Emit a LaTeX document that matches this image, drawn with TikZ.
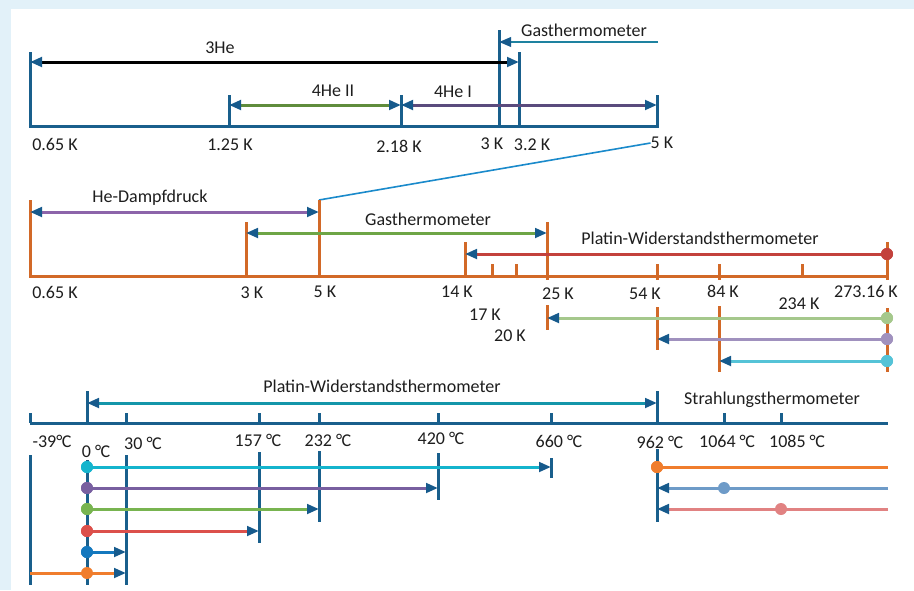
\documentclass[tikz,border=0pt]{standalone}
\usepackage{fontspec}
\setmainfont{Carlito}
\usetikzlibrary{arrows.meta}
\definecolor{bgblue}{RGB}{226,241,249}
\definecolor{tipblue}{RGB}{22,90,140}
\definecolor{axblue}{RGB}{25,95,140}
\definecolor{axorange}{RGB}{210,105,40}
\definecolor{textgray}{RGB}{30,30,30}
\definecolor{gasteal}{RGB}{30,130,160}
\definecolor{heIIgreen}{RGB}{95,140,60}
\definecolor{heIpurple}{RGB}{90,75,125}
\definecolor{linkblue}{RGB}{26,138,203}
\definecolor{dampfpurple}{RGB}{140,100,170}
\definecolor{gasgreen}{RGB}{110,165,70}
\definecolor{ptred}{RGB}{195,65,60}
\definecolor{lgreen}{RGB}{165,200,140}
\definecolor{lavender}{RGB}{160,145,190}
\definecolor{lcyan}{RGB}{85,195,215}
\definecolor{ptteal}{RGB}{20,150,170}
\definecolor{bcyan}{RGB}{20,180,205}
\definecolor{bpurple}{RGB}{120,95,160}
\definecolor{bgreen}{RGB}{120,180,80}
\definecolor{bred}{RGB}{220,80,75}
\definecolor{bblue}{RGB}{20,120,190}
\definecolor{borange}{RGB}{240,125,45}
\definecolor{steel}{RGB}{110,155,200}
\definecolor{pink}{RGB}{225,130,130}
\newcommand{\degc}{°\kern-0.5pt C}
\begin{document}
\begin{tikzpicture}[x=1pt,y=-1pt,
  >={Triangle[length=12pt,width=9.5pt,color=tipblue]},
  lab/.style={inner sep=0pt, font=\fontsize{18}{20}\selectfont, text=textgray},
  topax/.style={line width=3pt, draw=axblue},
  midax/.style={line width=3pt, draw=axorange},
  botax/.style={line width=3pt, draw=axblue},
  ar/.style={line width=3pt},
  dot/.style={circle, inner sep=0pt, minimum size=12pt}]
\useasboundingbox (0,0) rectangle (914,590);
\fill[bgblue] (0,0) rectangle (914,590);
\fill[white] (11,9) rectangle (914,590);

% ---------- top section ----------
\draw[topax] (30,52) -- (30,126) -- (657,126) -- (657,95);
\draw[topax] (229,95) -- (229,126);
\draw[topax] (401,95) -- (401,126);
\draw[topax] (499,30) -- (499,126);
\draw[topax] (519,52) -- (519,126);

\coordinate (he3a) at (30,62);  \coordinate (he3b) at (519,62);
\coordinate (he2a) at (229,105); \coordinate (he2b) at (401,105);
\coordinate (he1b) at (657,105);
\coordinate (gta) at (658,42);  \coordinate (gtb) at (499,42);
\draw[ar, black, <->] (he3a) -- (he3b);
\draw[ar, heIIgreen, <->] (he2a) -- (he2b);
\draw[ar, heIpurple, <->] (he2b) -- (he1b);
\draw[line width=2pt, gasteal, ->] (gta) -- (gtb);

\node[lab] (l3he) at (220,48) {3He};
\node[lab] (l4he2) at (333,91) {4He II};
\node[lab] (l4he1) at (453,92) {4He I};
\node[lab] (lgas1) at (584,30) {Gasthermometer};
\node[lab] (t1) at (55,144) {0.65 K};
\node[lab] (t2) at (230,145) {1.25 K};
\node[lab] (t3) at (399,146) {2.18 K};
\node[lab] (t4) at (492,144) {3 K};
\node[lab] (t5) at (532,145) {3.2 K};
\node[lab] (t6) at (662,143) {5 K};

% link line
\coordinate (m5top) at (319,200);
\draw[line width=1.6pt, linkblue] (t6.west) -- (m5top);

% ---------- middle section ----------
\draw[midax] (30,200) -- (30,276) -- (887,276);
\draw[midax] (246,222) -- (246,276);
\draw[midax] (319,200) -- (319,276);
\draw[midax] (465,242) -- (465,276);
\draw[midax] (492,264) -- (492,276);
\draw[midax] (516,264) -- (516,276);
\draw[midax] (547,222) -- (547,280);
\draw[midax] (657,264) -- (657,280);
\draw[midax] (719,264) -- (719,280);
\draw[midax] (802,264) -- (802,276);
\draw[midax] (887,242) -- (887,280);
\draw[midax] (547,305) -- (547,330);
\draw[midax] (657,307) -- (657,350);
\draw[midax] (719,306) -- (719,372);
\draw[midax] (887,308) -- (887,372);

\coordinate (hda) at (30,212); \coordinate (hdb) at (319,212);
\coordinate (g2a) at (246,233); \coordinate (g2b) at (547,233);
\coordinate (p14) at (465,254);
\coordinate (p25) at (547,318);
\coordinate (p54) at (657,339);
\coordinate (p84) at (719,361);
\draw[ar, dampfpurple, <->] (hda) -- (hdb);
\draw[ar, gasgreen, <->] (g2a) -- (g2b);
\node[dot, fill=ptred] (dpr) at (887,254) {};
\draw[ar, ptred, ->] (dpr.center) -- (p14);
\node[dot, fill=lgreen] (dlg) at (887,318) {};
\draw[ar, lgreen, ->] (dlg.center) -- (p25);
\node[dot, fill=lavender] (dlv) at (887,339) {};
\draw[ar, lavender, ->] (dlv.center) -- (p54);
\node[dot, fill=lcyan] (dlc) at (887,361) {};
\draw[ar, lcyan, ->] (dlc.center) -- (p84);
\node[dot, fill=ptred] at (887,254) {};
\node[dot, fill=lgreen] at (887,318) {};
\node[dot, fill=lavender] at (887,339) {};
\node[dot, fill=lcyan] at (887,361) {};

\node[lab] (lhd) at (150,198) {He-Dampfdruck};
\node[lab] (lgas2) at (428,219) {Gasthermometer};
\node[lab] (lpt1) at (700,238) {Platin-Widerstandsthermometer};
\node[lab] (m1) at (55,292) {0.65 K};
\node[lab] (m2) at (252,293) {3 K};
\node[lab] (m3) at (325,292) {5 K};
\node[lab] (m4) at (457,292) {14 K};
\node[lab] (m5) at (558,294) {25 K};
\node[lab] (m6) at (645,294) {54 K};
\node[lab] (m7) at (723,291) {84 K};
\node[lab] (m8) at (866,291) {273.16 K};
\node[lab] (m9) at (799,304) {234 K};
\node[lab] (m10) at (485,315) {17 K};
\node[lab] (m11) at (510,336) {20 K};

% ---------- bottom section ----------
\draw[botax] (30,423) -- (888,423);
\foreach \x in {30,126,259,319,438,551,724,781}
  \draw[botax] (\x,413) -- (\x,423);
\draw[botax] (87,391) -- (87,423);
\draw[botax] (657,391) -- (657,423);
\draw[botax] (30,455) -- (30,585);
\draw[botax] (87,460) -- (87,585);
\draw[botax] (126,455) -- (126,585);
\draw[botax] (259,452) -- (259,543);
\draw[botax] (319,451) -- (319,522);
\draw[botax] (438,453) -- (438,500);
\draw[botax] (551,458) -- (551,478);
\draw[botax] (657,449) -- (657,522);

\coordinate (pta) at (87,403); \coordinate (ptb) at (657,403);
\draw[ar, ptteal, <->] (pta) -- (ptb);

\coordinate (e660) at (551,467);
\coordinate (e420) at (438,488);
\coordinate (e232) at (319,509);
\coordinate (e157) at (259,531);
\coordinate (e30a) at (126,552);
\coordinate (e30b) at (126,573);
\coordinate (s39) at (30,573);
\node[dot, fill=bcyan] (b1) at (87,467) {};
\node[dot, fill=bpurple] (b2) at (87,488) {};
\node[dot, fill=bgreen] (b3) at (87,509) {};
\node[dot, fill=bred] (b4) at (87,531) {};
\node[dot, fill=bblue] (b5) at (87,552) {};
\draw[ar, bcyan, ->] (b1.center) -- (e660);
\draw[ar, bpurple, ->] (b2.center) -- (e420);
\draw[ar, bgreen, ->] (b3.center) -- (e232);
\draw[ar, bred, ->] (b4.center) -- (e157);
\draw[ar, bblue, ->] (b5.center) -- (e30a);
\draw[ar, borange, ->] (s39) -- (e30b);
\node[dot, fill=borange] (b6) at (87,573) {};
\node[dot, fill=bcyan] at (87,467) {};
\node[dot, fill=bpurple] at (87,488) {};
\node[dot, fill=bgreen] at (87,509) {};
\node[dot, fill=bred] at (87,531) {};
\node[dot, fill=bblue] at (87,552) {};

\coordinate (r1e) at (888,467);
\coordinate (r2s) at (888,488); \coordinate (r2e) at (657,488);
\coordinate (r3s) at (888,509); \coordinate (r3e) at (657,509);
\node[dot, fill=borange] (c1) at (657,467) {};
\draw[ar, borange] (c1.center) -- (r1e);
\node[dot, fill=borange] at (657,467) {};
\draw[ar, steel, ->] (r2s) -- (r2e);
\node[dot, fill=steel] (c2) at (724,488) {};
\draw[ar, pink, ->] (r3s) -- (r3e);
\node[dot, fill=pink] (c3) at (781,509) {};

\node[lab] (lpt2) at (382,386) {Platin-Widerstandsthermometer};
\node[lab] (lstr) at (772,400) {Strahlungsthermometer};
\node[lab] (k1) at (52,441) {-39\degc};
\node[lab] (k2) at (96,451) {0 \degc};
\node[lab] (k3) at (143,443) {30 \degc};
\node[lab] (k4) at (258,440) {157 \degc};
\node[lab] (k5) at (328,440) {232 \degc};
\node[lab] (k6) at (441,438) {420 \degc};
\node[lab] (k7) at (559,441) {660 \degc};
\node[lab] (k8) at (660,442) {962 \degc};
\node[lab] (k9) at (727,441) {1064 \degc};
\node[lab] (k10) at (797,441) {1085 \degc};
\end{tikzpicture}
\end{document}
